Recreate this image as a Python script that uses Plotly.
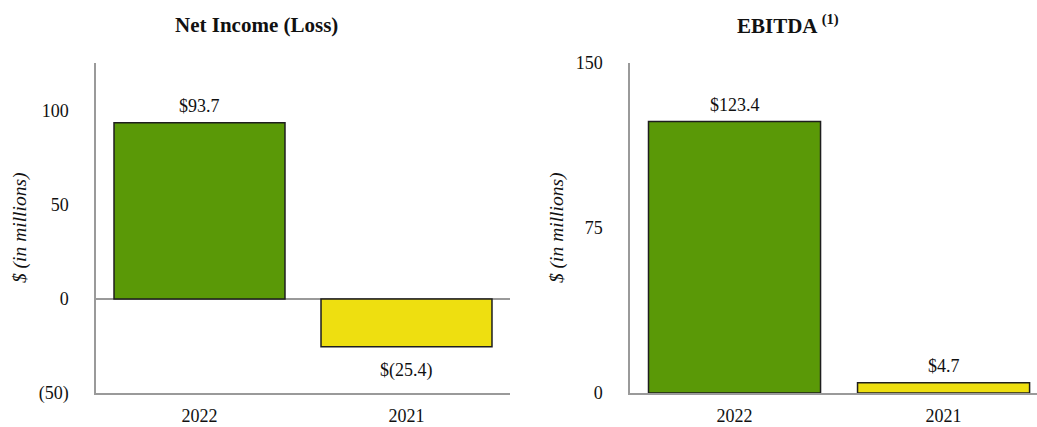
import plotly.graph_objects as go

years = ["2022", "2021"]
net_income = [93.7, -25.4]
ebitda = [123.4, 4.7]
net_income_labels = ["$93.7", "$(25.4)"]
ebitda_labels = ["$123.4", "$4.7"]
bar_colors = ["#5a9907", "#eedf10"]

ni_ticks = [-50, 0, 50, 100]
ni_ticktext = ["(50)", "0", "50", "100"]
eb_ticks = [0, 75, 150]
eb_ticktext = ["0", "75", "150"]

FONT = "Liberation Serif, Times New Roman, serif"
W, H = 1037, 427

fig = go.Figure()

fig.add_trace(go.Bar(
    x=years, y=net_income,
    marker=dict(color=bar_colors, line=dict(color="#1e1e1e", width=1.5)),
    width=0.826, xaxis="x", yaxis="y", showlegend=False,
))
fig.add_trace(go.Bar(
    x=years, y=ebitda,
    marker=dict(color=bar_colors, line=dict(color="#1e1e1e", width=1.5)),
    width=0.823, xaxis="x2", yaxis="y2", showlegend=False,
))

# value labels placed at each bar's end (x given as category index)
for xr, yr, vals, labels in [("x", "y", net_income, net_income_labels),
                             ("x2", "y2", ebitda, ebitda_labels)]:
    for idx, (v, lab) in enumerate(zip(vals, labels)):
        fig.add_annotation(
            x=idx, y=v, xref=xr, yref=yr, text=lab, showarrow=False,
            yanchor="bottom" if v >= 0 else "top",
            yshift=5 if v >= 0 else -11,
            font=dict(family=FONT, size=18, color="#111"),
        )

ydom = [(H - 393) / H, (H - 63) / H]
axis_common = dict(showgrid=False, showline=True, linecolor="#9a9a9a", linewidth=1.5,
                   tickfont=dict(family=FONT, size=18, color="#111"), ticks="",
                   automargin=False)

fig.update_layout(
    width=W, height=H, margin=dict(l=0, r=0, t=0, b=0, autoexpand=False),
    paper_bgcolor="white", plot_bgcolor="white",
    xaxis=dict(type="category", domain=[96 / W, 510 / W], range=[-0.5, 1.5], anchor="y",
               ticklabelstandoff=6, **axis_common),
    yaxis=dict(domain=ydom, range=[-50, 125.5], tickvals=ni_ticks, ticktext=ni_ticktext,
               zeroline=True, zerolinecolor="#9a9a9a", zerolinewidth=1.5,
               ticklabelstandoff=22, anchor="x", **axis_common),
    xaxis2=dict(type="category", domain=[630 / W, 1.0], range=[-0.5, 1.447], anchor="y2",
                ticklabelstandoff=6, **axis_common),
    yaxis2=dict(domain=ydom, range=[0, 150], tickvals=eb_ticks, ticktext=eb_ticktext,
                zeroline=False, ticklabelstandoff=22, anchor="x2", **axis_common),
)

annos = [
    dict(text="<b>Net Income (Loss)</b>", x=256 / W, y=1 - 25 / H, size=21),
    dict(text="<b>EBITDA <sup>(1)</sup></b>", x=788 / W, y=1 - 25 / H, size=21),
    dict(text="<i>$ (in millions)</i>", x=20 / W, y=1 - 228 / H, textangle=-90, size=19.5),
    dict(text="<i>$ (in millions)</i>", x=557 / W, y=1 - 228 / H, textangle=-90, size=19.5),
]
for a in annos:
    size = a.pop("size")
    fig.add_annotation(xref="paper", yref="paper", showarrow=False,
                       xanchor="center", yanchor="middle",
                       font=dict(family=FONT, size=size, color="#111"), **a)

fig.write_html("out.html")
